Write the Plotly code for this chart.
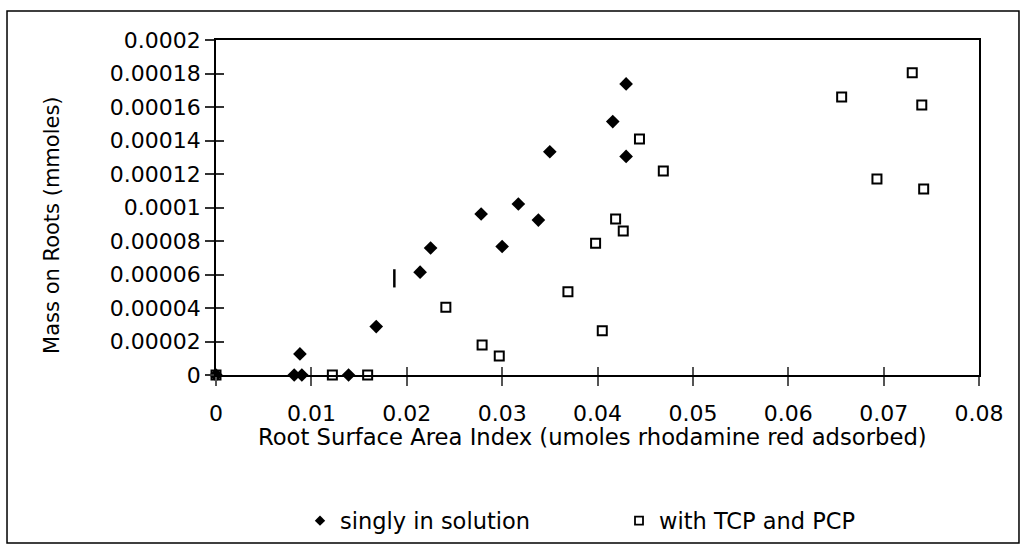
import plotly.graph_objects as go

# ---- data ----
singly_x = [0.0, 0.0082, 0.0090, 0.0088, 0.0139, 0.0168, 0.0214, 0.0225, 0.0278,
            0.0300, 0.0317, 0.0338, 0.0350, 0.0416, 0.0430, 0.0430]
singly_y = [0.0, 0.0, 0.0, 0.0000126, 0.0, 0.0000289, 0.0000614, 0.0000758, 0.0000961,
            0.0000767, 0.0001021, 0.0000925, 0.0001333, 0.0001513, 0.0001305, 0.0001738]

tcp_x = [0.0, 0.0122, 0.0159, 0.0241, 0.0279, 0.0297, 0.0369, 0.0398, 0.0405, 0.0419,
         0.0427, 0.0444, 0.0469, 0.0656, 0.0693, 0.0730, 0.0740, 0.0742]
tcp_y = [0.0, 0.0, 0.0, 0.0000405, 0.0000179, 0.0000114, 0.0000497, 0.0000787, 0.0000264,
         0.0000931, 0.0000859, 0.0001409, 0.0001218, 0.0001660, 0.0001170, 0.0001804,
         0.0001612, 0.0001110]

stray_x = [0.0187]
stray_y = [0.0000577]

x_ticks = [0, 0.01, 0.02, 0.03, 0.04, 0.05, 0.06, 0.07, 0.08]
x_labels = ["0", "0.01", "0.02", "0.03", "0.04", "0.05", "0.06", "0.07", "0.08"]
y_ticks = [0, 0.00002, 0.00004, 0.00006, 0.00008, 0.0001, 0.00012, 0.00014, 0.00016, 0.00018, 0.0002]
y_labels = ["0", "0.00002", "0.00004", "0.00006", "0.00008", "0.0001", "0.00012",
            "0.00014", "0.00016", "0.00018", "0.0002"]

series_names = ["singly in solution", "with TCP and PCP"]
x_title = "Root Surface Area Index (umoles rhodamine red adsorbed)"
y_title = "Mass on Roots (mmoles)"

FONT = "DejaVu Sans"

fig = go.Figure()

# squares first, diamonds on top
fig.add_trace(go.Scatter(
    x=tcp_x, y=tcp_y, mode="markers", showlegend=False, cliponaxis=False,
    marker=dict(symbol="square", size=9, color="white", line=dict(color="black", width=2)),
))
fig.add_trace(go.Scatter(
    x=singly_x, y=singly_y, mode="markers", showlegend=False, cliponaxis=False,
    marker=dict(symbol="diamond", size=10.5, color="black", line=dict(width=0)),
))
fig.add_trace(go.Scatter(
    x=stray_x, y=stray_y, mode="markers", showlegend=False, xaxis="x2", yaxis="y2",
    marker=dict(symbol="line-ns", size=13, line=dict(color="black", width=2.5)),
))
# legend entries
fig.add_trace(go.Scatter(
    x=[None], y=[None], mode="markers", name=series_names[0],
    marker=dict(symbol="diamond", size=8, color="black", line=dict(width=0)),
))
fig.add_trace(go.Scatter(
    x=[None], y=[None], mode="markers", name=series_names[1],
    marker=dict(symbol="square", size=8, color="white", line=dict(color="black", width=1.8)),
))

axis_common = dict(showgrid=False, zeroline=False)

fig.update_layout(
    width=1026, height=550,
    margin=dict(l=216, r=47, t=40, b=175, autoexpand=False),
    paper_bgcolor="white", plot_bgcolor="white",
    font=dict(family=FONT, size=21, color="black"),
    xaxis=dict(range=[0, 0.08], tickvals=x_ticks, ticktext=x_labels,
               showline=True, linecolor="black", linewidth=1.5, mirror=True,
               ticks="outside", ticklen=9, tickwidth=1.5, tickcolor="#555",
               ticklabelstandoff=9, tickfont=dict(size=22), **axis_common),
    yaxis=dict(range=[0, 0.0002], tickvals=y_ticks, ticktext=y_labels,
               showline=True, linecolor="black", linewidth=1.5, mirror=True,
               ticks="outside", ticklen=9, tickwidth=1.5, tickcolor="#333",
               ticklabelstandoff=0, tickfont=dict(size=22), **axis_common),
    xaxis2=dict(range=[0, 0.08], tickvals=x_ticks, overlaying="x", anchor="y2", side="bottom",
                showticklabels=False, ticks="inside", ticklen=8, tickwidth=1.5, tickcolor="#555",
                showline=False, **axis_common),
    yaxis2=dict(range=[0, 0.0002], tickvals=y_ticks, overlaying="y", anchor="x2", side="left",
                showticklabels=False, ticks="inside", ticklen=8, tickwidth=1.5, tickcolor="#333",
                showline=False, **axis_common),
    legend=dict(orientation="h", xref="container", yref="container",
                x=0.2924, xanchor="left", y=0.0527, yanchor="middle",
                font=dict(family=FONT, size=22.5), entrywidth=274, entrywidthmode="pixels",
                bgcolor="rgba(0,0,0,0)", borderwidth=0),
    annotations=[
        dict(text=x_title, xref="paper", yref="paper", x=0.494, y=-0.185,
             xanchor="center", yanchor="middle", showarrow=False, font=dict(size=22.7)),
        dict(text=y_title, xref="paper", yref="paper", x=-0.215, y=0.448,
             xanchor="center", yanchor="middle", textangle=-90, showarrow=False, font=dict(size=21)),
    ],
    shapes=[
        dict(type="rect", xref="paper", yref="paper", x0=-0.2739, x1=1.0524, y0=-0.5015, y1=1.0866,
             line=dict(color="black", width=1.5), fillcolor="rgba(0,0,0,0)", layer="below"),
    ],
)

fig.write_html("out.html", config={"displayModeBar": False},
               post_script="document.body.style.margin='0';")
